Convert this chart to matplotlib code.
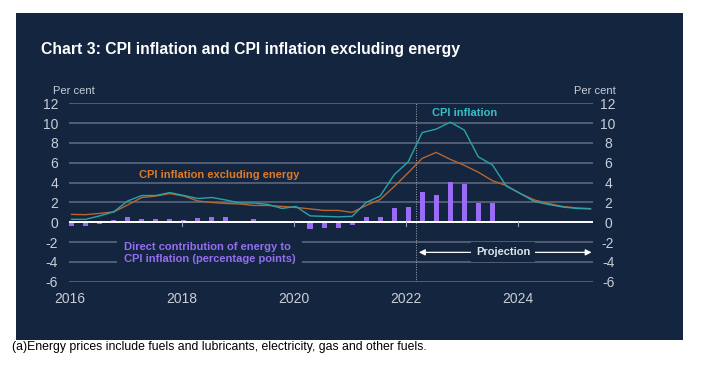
import matplotlib
matplotlib.use("Agg")
import matplotlib.pyplot as plt
import matplotlib.transforms as mtrans
from matplotlib.patches import Rectangle

plt.rcParams['font.family'] = ['Liberation Sans', 'DejaVu Sans']
plt.rcParams['axes.unicode_minus'] = False

# quarterly data, 2016Q1 .. 2025Q2
start_year = 2016
n_q = 38
cpi = [0.3, 0.3, 0.65, 1.05, 2.15, 2.7, 2.7, 3.0, 2.7, 2.4, 2.5, 2.25, 1.95, 1.95, 1.8, 1.4,
       1.6, 0.65, 0.6, 0.55, 0.6, 2.0, 2.65, 4.8, 6.1, 9.05, 9.4, 10.1, 9.3, 6.6, 5.8, 3.65,
       2.9, 2.1, 1.8, 1.55, 1.4, 1.35]
cpi_ex_energy = [0.8, 0.77, 0.9, 1.05, 1.75, 2.5, 2.65, 2.9, 2.65, 2.15, 2.0, 1.9, 1.85, 1.7, 1.7, 1.6,
                 1.5, 1.35, 1.2, 1.2, 1.0, 1.7, 2.3, 3.6, 5.0, 6.45, 7.05, 6.35, 5.75, 5.05, 4.2, 3.7,
                 2.9, 2.25, 1.9, 1.6, 1.45, 1.38]
energy = [-0.4, -0.35, -0.12, 0.2, 0.52, 0.38, 0.34, 0.34, 0.24, 0.42, 0.56, 0.54, 0.1, 0.36, 0.12, -0.05,
          0.12, -0.68, -0.58, -0.58, -0.32, 0.52, 0.57, 1.45, 1.5, 3.1, 2.75, 4.1, 3.85, 1.9, 1.95, 0.12,
          0.1, 0.0, 0.0, -0.05, -0.05, -0.05]
year_ticks = [2016, 2018, 2020, 2022, 2024]
y_ticks = [-6, -4, -2, 0, 2, 4, 6, 8, 10, 12]
projection_start = 2022.18

x = [start_year + 0.04 + 0.25 * i for i in range(n_q)]

navy = '#142540'
grid_c = '#566176'
label_c = '#c9ced8'
teal = '#2ba3a6'
orange = '#b9642c'
purple = '#9a6cf5'

fig = plt.figure(figsize=(7.01, 3.75), dpi=100)
fig.patch.set_facecolor('white')
fig.add_artist(Rectangle((0.0228, 0.0933), 0.9515, 0.872, transform=fig.transFigure,
                         facecolor=navy, edgecolor='none', zorder=0))

ax = fig.add_axes([0.0989, 0.2485, 0.7475, 0.476])
ax.patch.set_alpha(0)
for s in ax.spines.values():
    s.set_visible(False)

ax.set_xlim(2016.0, 2025.34)
ax.set_ylim(-6, 12)
ax.set_yticks(y_ticks)
ax.set_xticks(year_ticks)
ax.set_xticklabels([str(y) for y in year_ticks])
ax.tick_params(axis='y', length=0, labelsize=10, labelcolor=label_c,
               labelleft=True, labelright=True, pad=8.1)
ax.tick_params(axis='x', length=0, labelsize=10, labelcolor=label_c, pad=7.5)
# right-hand labels are centred a little way off the plot
shift = mtrans.ScaledTranslation(3.5 / 100, 0, fig.dpi_scale_trans)
for t in ax.yaxis.get_major_ticks():
    t.label2.set_horizontalalignment('center')
    t.label2.set_transform(t.label2.get_transform() + shift)

# grid, zero line, small year ticks
for yv in y_ticks:
    if yv != 0:
        ax.axhline(yv, color=grid_c, lw=1.3, zorder=0.5)
ax.axhline(0, color='white', lw=1.4, zorder=2.5)
for yr in year_ticks[1:]:
    ax.plot([yr, yr], [0, -0.4], color='#9aa2b0', lw=0.8, zorder=2.5)

ax.axvline(projection_start, color='#a0a7b4', lw=0.7, ls=(0, (1, 1.5)), zorder=1)

ax.bar(x, energy, width=0.09, color=purple, zorder=2)
ax.plot(x, cpi_ex_energy, color=orange, lw=1.0, zorder=3)
ax.plot(x, cpi, color=teal, lw=1.0, zorder=3)

ax.text(2023.04, 11.0, 'CPI inflation', color='#35c0c4', fontsize=8, fontweight='bold',
        ha='center', va='center')
ax.text(2018.68, 4.74, 'CPI inflation excluding energy', color='#e07a24', fontsize=8,
        fontweight='bold', ha='center', va='center')
ax.text(2016.97, -3.1, 'Direct contribution of energy to\nCPI inflation (percentage points)',
        color='#946ef0', fontsize=8, fontweight='bold', ha='left', va='center', linespacing=1.35,
        bbox=dict(boxstyle='square,pad=0.6', facecolor=navy, edgecolor='none'), zorder=4)

ax.annotate('', xy=(2025.31, -3.03), xytext=(2022.23, -3.03),
            arrowprops=dict(arrowstyle='<|-|>', color='white', lw=0.9, mutation_scale=9,
                            shrinkA=0, shrinkB=0), zorder=4)
ax.text(2023.73, -3.0, 'Projection', color='#dfe3ea', fontsize=8, fontweight='bold',
        ha='center', va='center',
        bbox=dict(boxstyle='square,pad=0.45', facecolor=navy, edgecolor='none'), zorder=5)

fig.text(0.058, 0.867, 'Chart 3: CPI inflation and CPI inflation excluding energy', color='white',
         fontsize=11.3, fontweight='bold', ha='left', va='center')
fig.text(0.0756, 0.758, 'Per cent', color=label_c, fontsize=8, ha='left', va='center')
fig.text(0.8783, 0.758, 'Per cent', color=label_c, fontsize=8, ha='right', va='center')
fig.text(0.017, 0.0755, '(a)Energy prices include fuels and lubricants, electricity, gas and other fuels.',
         color='black', fontsize=8.8, ha='left', va='center')

fig.savefig('out.png', dpi=100, facecolor='white')
